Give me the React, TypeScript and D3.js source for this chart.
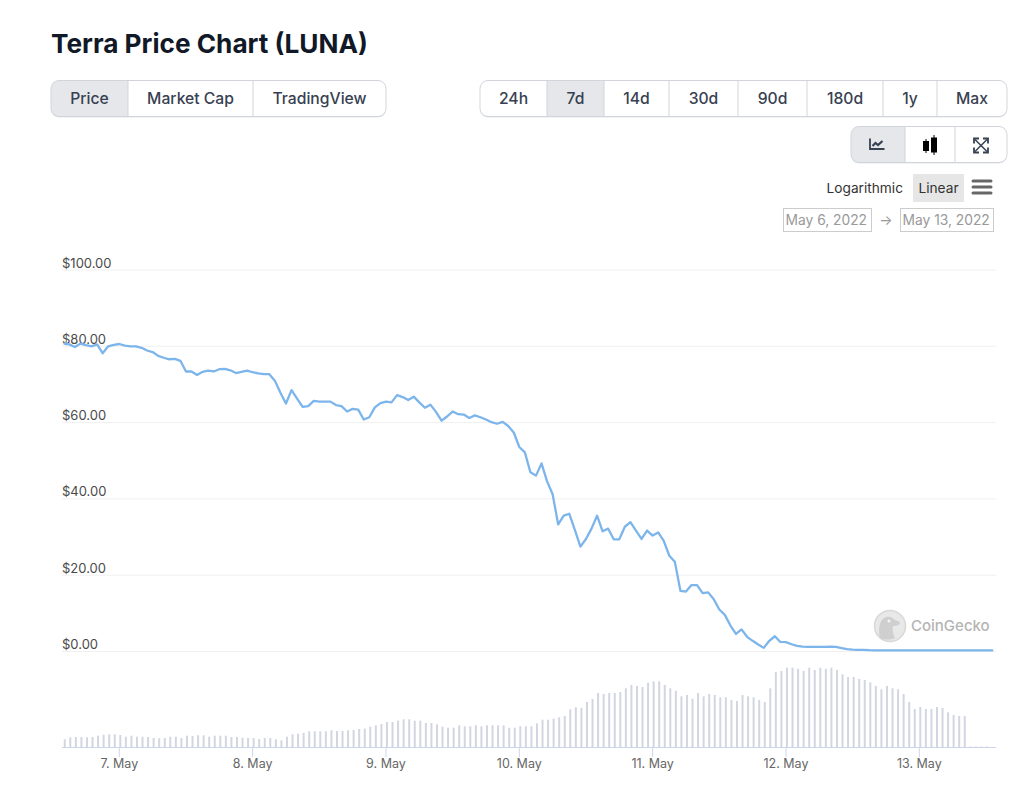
import React from 'react';
import * as d3 from 'd3';

// Hourly samples. First one is 6 May 14:00 UTC.
const prices = [
  80.7, 80.5, 79.8, 80.7, 80.3, 80.0, 80.5, 78.2, 80.0, 80.4, 80.6, 80.2, 80.0, 80.0, 79.6, 78.9, 78.5, 77.5, 77.0, 76.6,
  76.7, 76.2, 73.4, 73.4, 72.5, 73.3, 73.6, 73.4, 74.0, 74.1, 73.7, 73.0, 73.3, 73.6, 73.2, 72.9, 72.7, 72.7, 71.0, 67.8,
  65.0, 68.5, 66.3, 64.1, 64.3, 65.7, 65.5, 65.5, 65.5, 64.6, 64.3, 62.9, 63.6, 63.4, 60.8, 61.4, 64.0, 65.1, 65.5, 65.3,
  67.2, 66.7, 65.9, 66.8, 65.3, 63.9, 64.7, 62.8, 60.5, 61.6, 62.9, 62.2, 62.1, 61.2, 61.9, 61.4, 60.8, 60.1, 59.7, 60.2,
  59.1, 57.4, 53.6, 52.2, 47.0, 46.1, 49.3, 44.6, 41.2, 33.3, 35.6, 36.1, 31.9, 27.5, 29.5, 32.2, 35.6, 31.5, 32.2, 29.4,
  29.4, 32.7, 33.9, 31.7, 29.5, 31.7, 30.4, 31.2, 29.0, 25.1, 23.5, 15.9, 15.7, 17.4, 17.4, 15.3, 15.5, 13.7, 11.0, 9.6,
  6.8, 4.6, 5.8, 3.85, 2.8, 1.85, 0.95, 2.8, 4.0, 2.5, 2.45, 1.9, 1.5, 1.3, 1.2, 1.2, 1.2, 1.2, 1.3, 1.2,
  0.9, 0.6, 0.5, 0.45, 0.45, 0.35, 0.3, 0.3, 0.3, 0.3, 0.3, 0.3, 0.3, 0.3, 0.3, 0.3, 0.3, 0.3, 0.3, 0.3,
  0.3, 0.3, 0.3, 0.3, 0.3, 0.3, 0.3, 0.3,
];

// Relative volume, the axis is not labelled on the page
const volumes = [
  7.7, 9.7, 10, 10, 9.7, 10, 11.3, 12.3, 12.7, 12.7, 12, 10.3, 11.3, 10.3, 10.3, 10, 9, 8.7, 9, 10.3,
  10.3, 9, 11.3, 11, 11.7, 11.7, 10.3, 11.3, 11.3, 11.3, 10, 10, 9.3, 9, 9, 8, 9, 9, 7.7, 6.7,
  10.3, 12.7, 13.3, 14, 15.7, 15.7, 15.7, 15.7, 16.7, 16, 16, 16.7, 17, 18, 18.3, 20.3, 21.7, 23, 25, 25,
  26.3, 27.7, 27.7, 26.3, 26.3, 24, 24, 22.7, 20.3, 19.3, 19.3, 21.7, 20.7, 20.7, 21.7, 20.7, 21.7, 21.7, 21.7, 21.7,
  19.3, 19.3, 20.7, 20.7, 20.7, 23.7, 27.3, 27.3, 28.3, 29.7, 31, 37.7, 39.7, 39, 45, 48, 54, 53, 54, 54,
  55, 58.7, 62, 61, 60, 64.3, 65.7, 65.7, 62, 58.7, 56.3, 50.7, 52, 48.3, 54, 50.7, 53, 52, 49.7, 49.7,
  47, 46, 52, 50.7, 49.7, 47, 45, 58.7, 75, 76, 79.3, 79.3, 78.3, 76, 79.3, 77, 79.3, 78.3, 79.3, 77,
  72.7, 70, 70, 68, 67, 64.7, 61, 57.7, 61, 58.7, 57.7, 53, 45, 38, 40, 38, 38, 40, 39, 34.7,
  32, 31, 31, 0.5, 0.5, 0.5, 0.5, 0,
];

const priceTicks = [0, 20, 40, 60, 80, 100];
const dayTicks = [7, 8, 9, 10, 11, 12, 13];

const viewTabs = ['Price', 'Market Cap', 'TradingView'];
const viewEdges = [51, 128, 253, 386];
const rangeTabs = ['24h', '7d', '14d', '30d', '90d', '180d', '1y', 'Max'];
const rangeEdges = [480, 547, 604, 669, 738, 807, 883, 937, 1007];
const iconEdges = [851, 905, 955, 1007];

const UI_FONT = 'Inter, "Noto Sans", sans-serif';

const x = d3.scaleUtc()
  .domain([new Date(Date.UTC(2022, 4, 7)), new Date(Date.UTC(2022, 4, 13))])
  .range([119.3, 919.3]);
const y = d3.scaleLinear().domain([0, 100]).range([651.5, 270]);
const volY = d3.scaleLinear().domain([0, 80]).range([747, 667]);

const hourAt = (i: number) => new Date(Date.UTC(2022, 4, 6, 14 + i));

// the newest sample comes in a little after the full hour
const priceTimes = prices.map((_, i) =>
  i === prices.length - 1 ? new Date(+hourAt(i) + 18 * 60000) : hourAt(i));

const priceLine = d3.line<number>()
  .x((_, i) => x(priceTimes[i]))
  .y(d => y(d));

type GroupProps = {
  id: string;
  edges: number[];
  top: number;
  bottom: number;
  active: number;
  labels?: string[];
  children?: React.ReactNode;
};

const ButtonGroup = ({ id, edges, top, bottom, active, labels, children }: GroupProps) => {
  const left = edges[0];
  const right = edges[edges.length - 1];
  return (
    <g>
      <clipPath id={id}>
        <rect x={left} y={top} width={right - left} height={bottom - top} rx={8} />
      </clipPath>
      <rect x={left} y={top + 1} width={right - left} height={bottom - top} rx={8} fill="#e5e7eb" />
      <g clipPath={`url(#${id})`}>
        <rect x={left} y={top} width={right - left} height={bottom - top} fill="#fff" />
        <rect x={edges[active]} y={top} width={edges[active + 1] - edges[active]} height={bottom - top} fill="#e5e7eb" />
        {edges.slice(1, -1).map(e => (
          <line key={e} x1={e} x2={e} y1={top} y2={bottom} stroke="#d1d5db" />
        ))}
      </g>
      <rect x={left} y={top} width={right - left} height={bottom - top} rx={8} fill="none" stroke="#d1d5db" />
      {labels && labels.map((t, i) => (
        <text
          key={t}
          x={(edges[i] + edges[i + 1]) / 2}
          y={(top + bottom) / 2 + 5.5}
          textAnchor="middle"
          fontFamily={UI_FONT}
          fontWeight={500}
          fontSize={15.7}
          fill="#374151"
        >
          {t}
        </text>
      ))}
      {children}
    </g>
  );
};

const App = () => {
  return (
    <svg width={1024} height={796} style={{ position: 'absolute', left: 0, top: 0, display: 'block', background: '#fff' }}>
      <text x={51} y={53} fontFamily={UI_FONT} fontWeight={700} fontSize={26.2} fill="#111827">
        Terra Price Chart (LUNA)
      </text>

      <ButtonGroup id="view-clip" edges={viewEdges} top={80.5} bottom={116.5} active={0} labels={viewTabs} />
      <ButtonGroup id="range-clip" edges={rangeEdges} top={80.5} bottom={116.5} active={1} labels={rangeTabs} />
      <ButtonGroup id="icon-clip" edges={iconEdges} top={126.5} bottom={162.5} active={0}>
        <g fill="none" stroke="#374151" strokeWidth={1.8}>
          <path d="M870 138.500v10.500h14.500" />
          <path d="M872.500 146l3-3 2.500 2 4.500-4" strokeWidth={2.2} />
        </g>
        <g stroke="#000">
          <line x1={926} x2={926} y1={139} y2={153} />
          <rect x={923.500} y={141.500} width={5} height={9} fill="#000" />
          <line x1={934} x2={934} y1={135} y2={155} />
          <rect x={931.500} y={138} width={5} height={14} fill="#000" />
        </g>
        <g fill="none" stroke="#374151" strokeWidth={1.8}>
          <path d="M974 143.500v-5h5M988 143.500v-5h-5M974 147.500v5h5M988 147.500v5h-5" />
          <path d="M975 139.500l12 12M987 139.500l-12 12" strokeWidth={1.5} />
        </g>
      </ButtonGroup>

      <g fontFamily={UI_FONT}>
        <text x={903} y={193} textAnchor="end" fontSize={13.7} fill="#333">Logarithmic</text>
        <rect x={913} y={174} width={51} height={28} fill="#e6e6e6" />
        <text x={938.500} y={193} textAnchor="middle" fontSize={13.7} fill="#333">Linear</text>
        {[181, 187, 193].map(v => (
          <line key={v} x1={973} x2={991} y1={v} y2={v} stroke="#666" strokeWidth={3} strokeLinecap="round" />
        ))}

        <rect x={783.500} y={208.500} width={88} height={23} fill="none" stroke="#ccc" />
        <text x={785.500} y={225} fontSize={13.8} fill="#999">May 6, 2022</text>
        <text x={886} y={225} textAnchor="middle" fontSize={14} fill="#999">→</text>
        <rect x={900.500} y={208.500} width={93} height={23} fill="none" stroke="#ccc" />
        <text x={902.500} y={225} fontSize={13.8} fill="#999">May 13, 2022</text>

        {priceTicks.map(t => (
          <g key={t}>
            <line x1={62} x2={996} y1={y(t)} y2={y(t)} stroke="#f0f0f0" />
            <text x={62} y={y(t) - 2.5} fontSize={13} fill="#4a4a4a">{`$${t.toFixed(2)}`}</text>
          </g>
        ))}

        {/* watermark */}
        <circle cx={890} cy={626} r={15.500} fill="#e8e8e8" stroke="#d8d8d8" strokeWidth={1.500} />
        <path d="M880 638c-2-8-1-19 6-21 4-1 7 1 9 3l5 2c0 3-3 4-7 4-1 4 0 8 2 12-5 2-11 2-15 0z" fill="#cfcfcf" />
        <circle cx={889} cy={621} r={1.500} fill="#f4f4f4" />
        <text x={911} y={630.500} fontSize={15} fontWeight={500} fill="#b5b5b5">CoinGecko</text>

        {volumes.map((v, i) => (
          <line
            key={i}
            x1={x(hourAt(i)) + 1}
            x2={x(hourAt(i)) + 1}
            y1={volY(0)}
            y2={volY(v)}
            stroke="#d3d6e2"
            strokeWidth={2}
          />
        ))}

        <line x1={62} x2={996} y1={747.500} y2={747.500} stroke="#ccd6eb" />
        {dayTicks.map(d => {
          const px = x(new Date(Date.UTC(2022, 4, d)));
          return (
            <g key={d}>
              <line x1={px} x2={px} y1={747} y2={757} stroke="#ccd6eb" />
              <text x={px} y={768} textAnchor="middle" fontSize={12.5} fill="#666">{`${d}. May`}</text>
            </g>
          );
        })}

        <path d={priceLine(prices) ?? ''} fill="none" stroke="#7cb5ec" strokeWidth={2.3} strokeLinejoin="round" />
      </g>
    </svg>
  );
};

export default App;
